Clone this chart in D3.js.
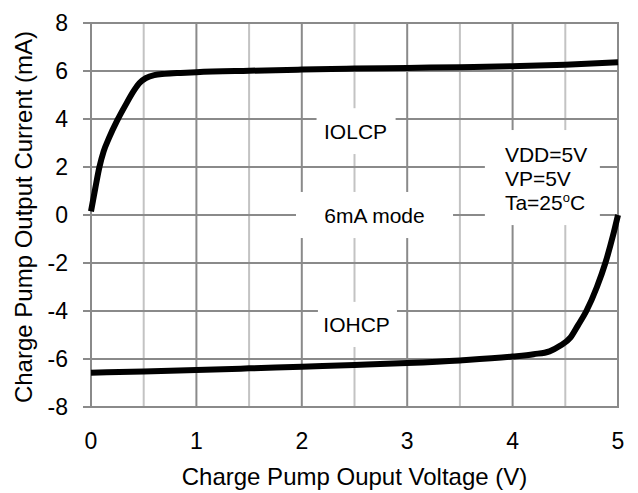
<!doctype html>
<html>

<head>
    <meta charset="UTF-8">
    <title>Charge Pump Output Current vs Voltage</title>
    <script src="https://cdn.jsdelivr.net/npm/d3@7"></script>
    <style>
        body { margin: 0; background: #fff; }
        text { font-family: "Liberation Sans", Arial, sans-serif; fill: #000; }
    </style>
</head>

<body>
    <script>
        // data
        var voltageTicks = [0, 1, 2, 3, 4, 5];
        var voltageMinor = [0.5, 1.5, 2.5, 3.5, 4.5];
        var currentTicks = [-8, -6, -4, -2, 0, 2, 4, 6, 8];

        var iolcpV = [0, 0.04, 0.08, 0.12, 0.17, 0.25, 0.33, 0.41, 0.46, 0.52, 0.6, 0.7, 0.85, 1, 1.5, 2, 2.5, 3, 3.5, 4, 4.5, 5];
        var iolcpI = [0.15, 1.1, 2.0, 2.65, 3.2, 3.95, 4.6, 5.2, 5.5, 5.7, 5.83, 5.88, 5.92, 5.95, 6.01, 6.06, 6.1, 6.13, 6.16, 6.2, 6.26, 6.36];

        var iohcpV = [0, 0.5, 1, 1.5, 2, 2.5, 3, 3.5, 4, 4.2, 4.35, 4.45, 4.55, 4.62, 4.7, 4.8, 4.88, 4.95, 5];
        var iohcpI = [-6.57, -6.52, -6.46, -6.39, -6.32, -6.25, -6.17, -6.06, -5.9, -5.8, -5.68, -5.45, -5.1, -4.6, -4.0, -3.0, -2.0, -0.9, 0.0];

        var notes = ["IOLCP", "6mA mode", "IOHCP"];
        var condLines = ["VDD=5V", "VP=5V", "Ta=25"];

        var w = 638;
        var h = 493;

        var x = d3.scaleLinear().domain([0, 5]).range([91, 618]);
        var y = d3.scaleLinear().domain([-8, 8]).range([407, 23]);

        var svg = d3.select("body").append("svg")
            .attr("width", w)
            .attr("height", h);

        // grid
        svg.selectAll("line.minor")
            .data(voltageMinor)
            .enter().append("line")
            .attr("class", "minor")
            .attr("x1", function (d) { return x(d); })
            .attr("x2", function (d) { return x(d); })
            .attr("y1", y(8))
            .attr("y2", y(-8))
            .attr("stroke", "#c3c3c3")
            .attr("stroke-width", 2);

        svg.selectAll("line.vmajor")
            .data(voltageTicks)
            .enter().append("line")
            .attr("class", "vmajor")
            .attr("x1", function (d) { return x(d); })
            .attr("x2", function (d) { return x(d); })
            .attr("y1", y(8))
            .attr("y2", y(-8))
            .attr("stroke", "#8a8a8a")
            .attr("stroke-width", 2);

        svg.selectAll("line.hmajor")
            .data(currentTicks)
            .enter().append("line")
            .attr("class", "hmajor")
            .attr("x1", x(0) - 8)
            .attr("x2", x(5) + 1)
            .attr("y1", function (d) { return y(d); })
            .attr("y2", function (d) { return y(d); })
            .attr("stroke", "#8a8a8a")
            .attr("stroke-width", 2);

        // tick labels
        svg.selectAll("text.xt")
            .data(voltageTicks)
            .enter().append("text")
            .attr("class", "xt")
            .attr("x", function (d) { return x(d); })
            .attr("y", 449)
            .attr("text-anchor", "middle")
            .attr("font-size", 23)
            .text(function (d) { return d; });

        svg.selectAll("text.yt")
            .data(currentTicks)
            .enter().append("text")
            .attr("class", "yt")
            .attr("x", 68)
            .attr("y", function (d) { return y(d); })
            .attr("dy", "0.36em")
            .attr("text-anchor", "end")
            .attr("font-size", 23)
            .text(function (d) { return d; });

        // axis titles
        svg.append("text")
            .attr("x", (x(0) + x(5)) / 2)
            .attr("y", 485)
            .attr("text-anchor", "middle")
            .attr("font-size", 24)
            .text("Charge Pump Ouput Voltage (V)");

        svg.append("text")
            .attr("transform", "translate(32," + (y(0) + 2) + ") rotate(-90)")
            .attr("text-anchor", "middle")
            .attr("font-size", 24)
            .text("Charge Pump Output Current (mA)");

        // label boxes (white, cut the grid)
        function box(v0, v1, i0, i1) {
            svg.append("rect")
                .attr("x", x(v0))
                .attr("y", y(i0))
                .attr("width", x(v1) - x(v0))
                .attr("height", y(i1) - y(i0))
                .attr("fill", "#fff");
        }
        box(2.14, 2.89, 4.45, 2.54);
        box(1.945, 3.435, 0.96, -0.96);
        box(3.737, 4.828, 3.54, -0.42);
        box(2.153, 2.903, -3.62, -5.5);

        // curves
        var line = d3.line()
            .x(function (d) { return x(d[0]); })
            .y(function (d) { return y(d[1]); })
            .curve(d3.curveMonotoneX);

        svg.append("path")
            .datum(d3.zip(iolcpV, iolcpI))
            .attr("d", line)
            .attr("fill", "none")
            .attr("stroke", "#000")
            .attr("stroke-width", 6);

        svg.append("path")
            .datum(d3.zip(iohcpV, iohcpI))
            .attr("d", line)
            .attr("fill", "none")
            .attr("stroke", "#000")
            .attr("stroke-width", 6);

        // notes
        svg.append("text")
            .attr("x", x(2.51)).attr("y", y(3.17))
            .attr("text-anchor", "middle").attr("font-size", 21)
            .text(notes[0]);
        svg.append("text")
            .attr("x", x(2.69)).attr("y", y(-0.32))
            .attr("text-anchor", "middle").attr("font-size", 21)
            .text(notes[1]);
        svg.append("text")
            .attr("x", x(2.52)).attr("y", y(-4.875))
            .attr("text-anchor", "middle").attr("font-size", 21)
            .text(notes[2]);

        var cond = svg.append("text")
            .attr("x", x(3.927))
            .attr("y", y(2.22))
            .attr("font-size", 21);
        cond.selectAll("tspan")
            .data(condLines)
            .enter().append("tspan")
            .attr("x", x(3.927))
            .attr("dy", function (d, i) { return i == 0 ? 0 : 24; })
            .text(function (d) { return d; });
        cond.append("tspan").attr("font-size", 13).attr("dy", -8).text("o");
        cond.append("tspan").attr("dy", 8).text("C");
    </script>

</body>

</html>
